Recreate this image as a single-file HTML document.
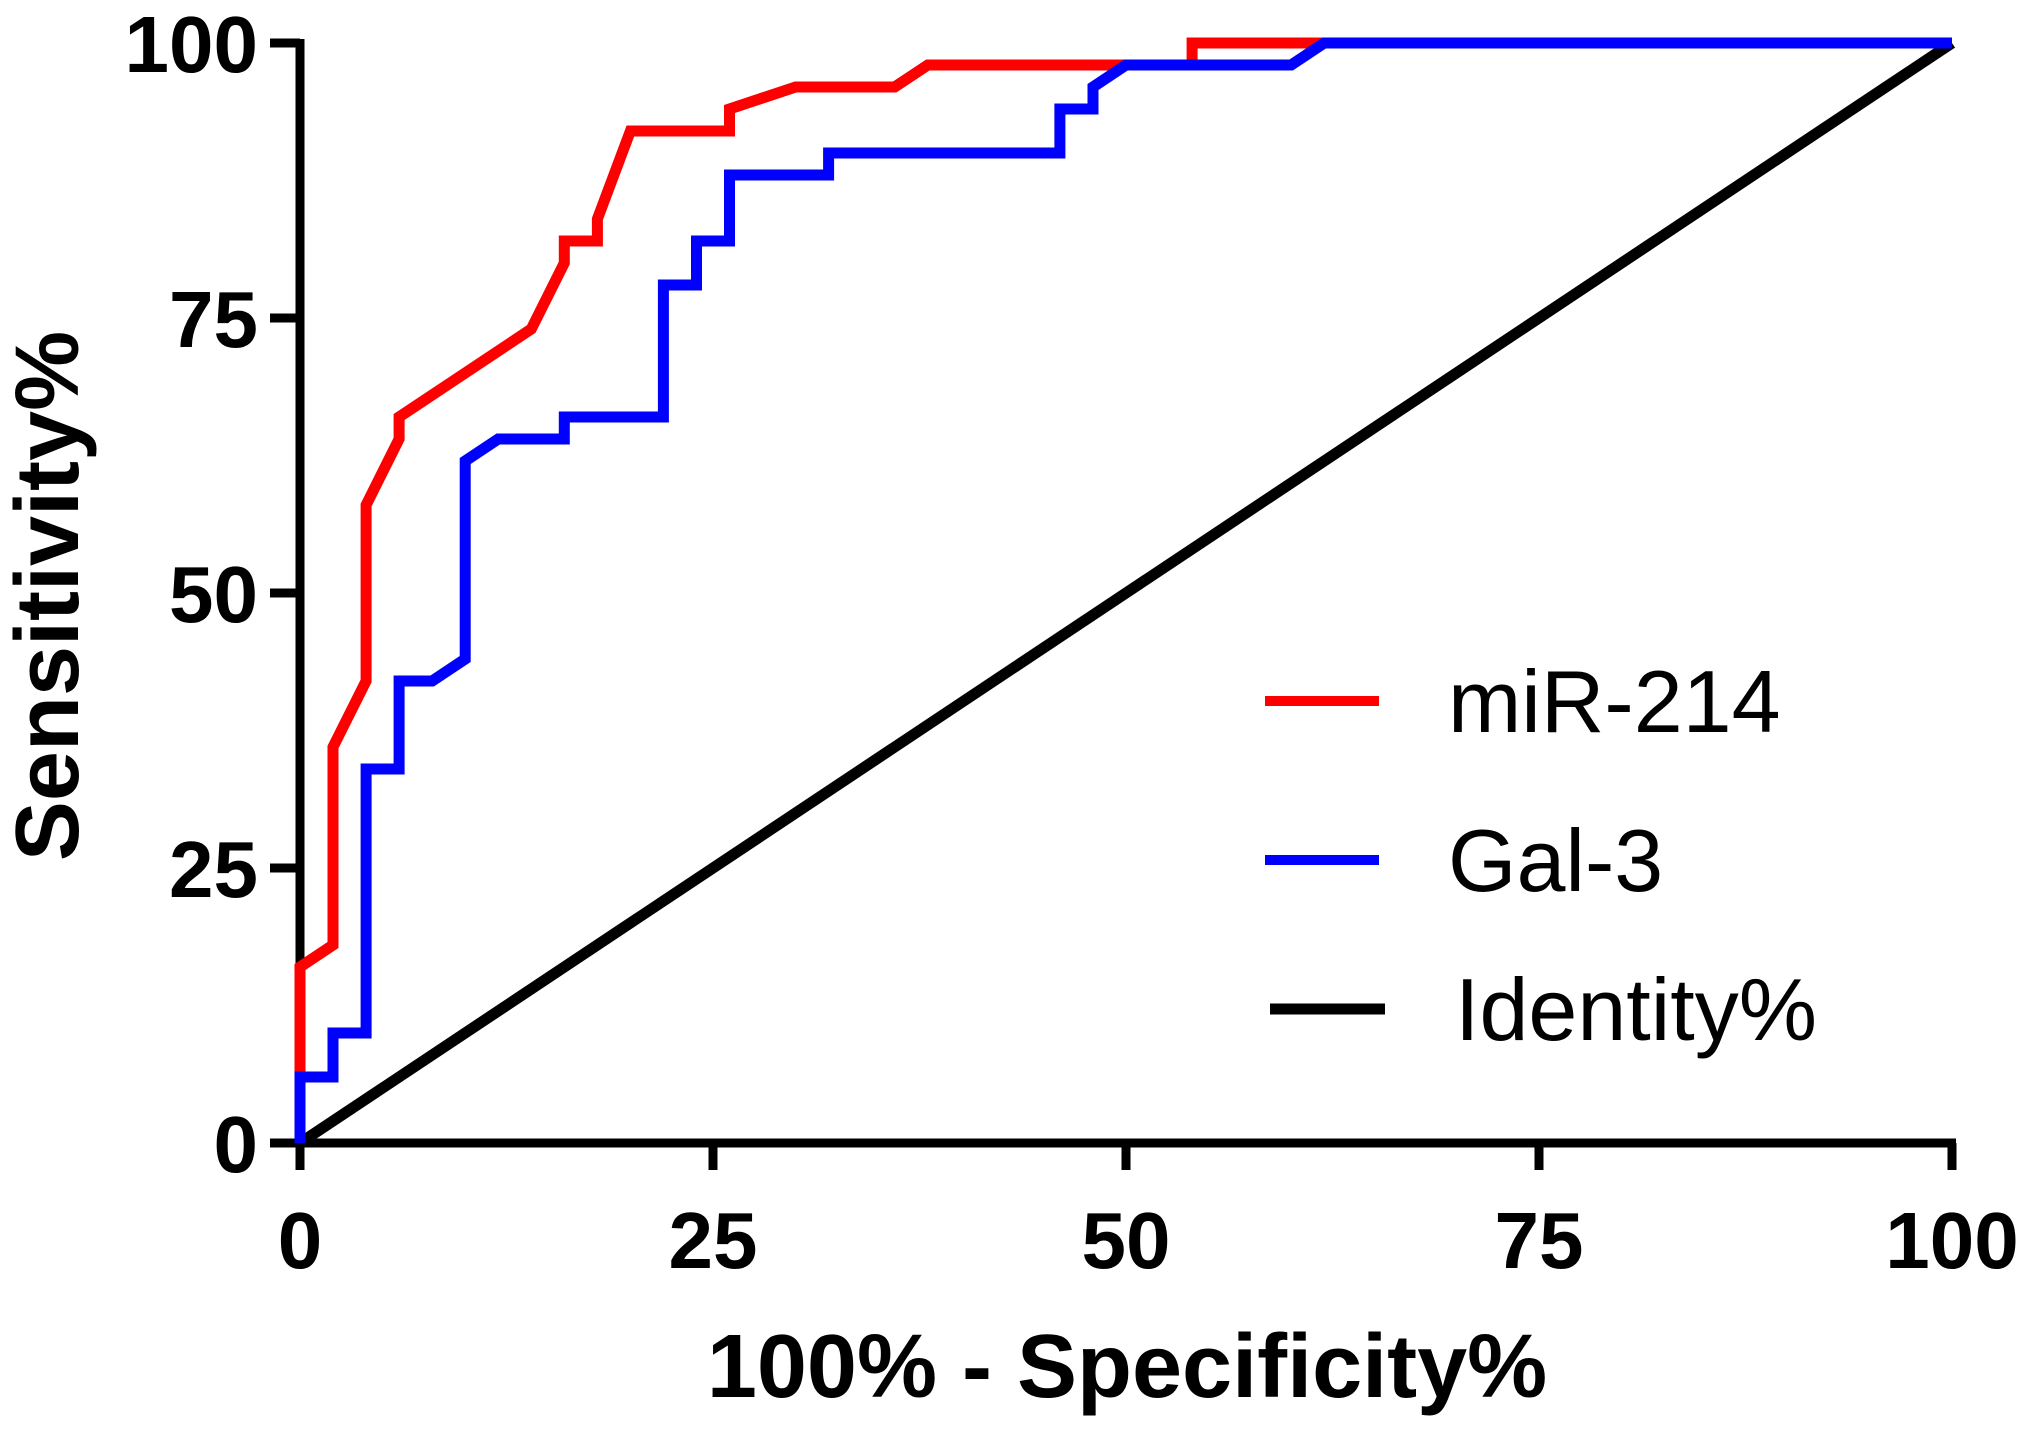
<!DOCTYPE html>
<html><head><meta charset="utf-8"><style>
html,body{margin:0;padding:0;background:#fff;}
svg{display:block;}
text{font-family:"Liberation Sans",Arial,sans-serif;}
</style></head><body>
<svg id="chart" width="2031" height="1429" viewBox="0 0 2031 1429">
<g id="axes"></g>
<g id="series"></g>
<text x="1127" y="1397" text-anchor="middle" font-size="90" font-weight="bold">100% - Specificity%</text>
<text transform="translate(78,596) rotate(-90)" text-anchor="middle" font-size="90" font-weight="bold">Sensitivity%</text>
<g>
<g>
<line x1="1265" y1="701" x2="1379" y2="701" stroke="#ff0000" stroke-width="10"/>
<text x="1448" y="732" font-size="88">miR-214</text></g>
<g>
<line x1="1265" y1="860" x2="1379" y2="860" stroke="#0000ff" stroke-width="10"/>
<text x="1448" y="891" font-size="88">Gal-3</text></g>
<g>
<line x1="1270" y1="1009" x2="1385" y2="1009" stroke="#000" stroke-width="11"/>
<text x="1455" y="1040" font-size="88">Identity%</text></g>
</g>
</svg>
<script>
const xTicks = [0, 25, 50, 75, 100];
const yTicks = [0, 25, 50, 75, 100];
const mirX = [0,0,2,2,4,4,6,6,14,16,16,18,18,20,26,26,30,36,38,54,54,100];
const mirY = [0,16,18,36,42,58,64,66,74,80,82,82,84,92,92,94,96,96,98,98,100,100];
const galX = [0,0,2,2,4,4,6,6,8,10,10,12,16,16,22,22,24,24,26,26,32,32,46,46,48,48,50,60,62,100];
const galY = [0,6,6,10,10,34,34,42,42,44,62,64,64,66,66,78,78,82,82,88,88,90,90,94,94,96,98,98,100,100];
const idX = [0,100];
const idY = [0,100];

const X0=300, X1=1952, Y0=1143, Y1=43;
const sx = v => X0 + (X1-X0)*v/100;
const sy = v => Y0 - (Y0-Y1)*v/100;
const NS="http://www.w3.org/2000/svg";
const axes=document.getElementById('axes');
const series=document.getElementById('series');
function mk(tag, attrs, parent){const e=document.createElementNS(NS,tag);for(const k in attrs)e.setAttribute(k,attrs[k]);parent.appendChild(e);return e;}

function drawLine(xs, ys, color, name){
  const pts = xs.map((x,i)=>sx(x).toFixed(1)+','+sy(ys[i]).toFixed(1)).join(' ');
  const p = mk('polyline',{points:pts,fill:'none',stroke:color,'stroke-width':11,'stroke-linejoin':'miter'},series);
  
  
}
drawLine(idX, idY, '#000', 'identity-line');
drawLine(mirX, mirY, '#ff0000', 'mir-214-line');
drawLine(galX, galY, '#0000ff', 'gal-3-line');

const xa = mk('line',{x1:X0-4,y1:Y0,x2:X1+4,y2:Y0,stroke:'#000','stroke-width':9},axes);


const ya = mk('line',{x1:X0,y1:Y0+4,x2:X0,y2:Y1-4,stroke:'#000','stroke-width':9},axes);



xTicks.forEach(t=>{
  const l = mk('line',{x1:sx(t),y1:Y0,x2:sx(t),y2:Y0+27,stroke:'#000','stroke-width':9},axes);
  
  
  const tx = mk('text',{x:sx(t),y:1268,'text-anchor':'middle','font-size':80,'font-weight':'bold'},axes);
  tx.textContent = t;
  
  
});
yTicks.forEach(t=>{
  const l = mk('line',{x1:X0-30,y1:sy(t),x2:X0,y2:sy(t),stroke:'#000','stroke-width':9},axes);
  
  
  const tx = mk('text',{x:258,y:sy(t)+29,'text-anchor':'end','font-size':80,'font-weight':'bold'},axes);
  tx.textContent = t;
  
  
});
</script>
</body></html>
